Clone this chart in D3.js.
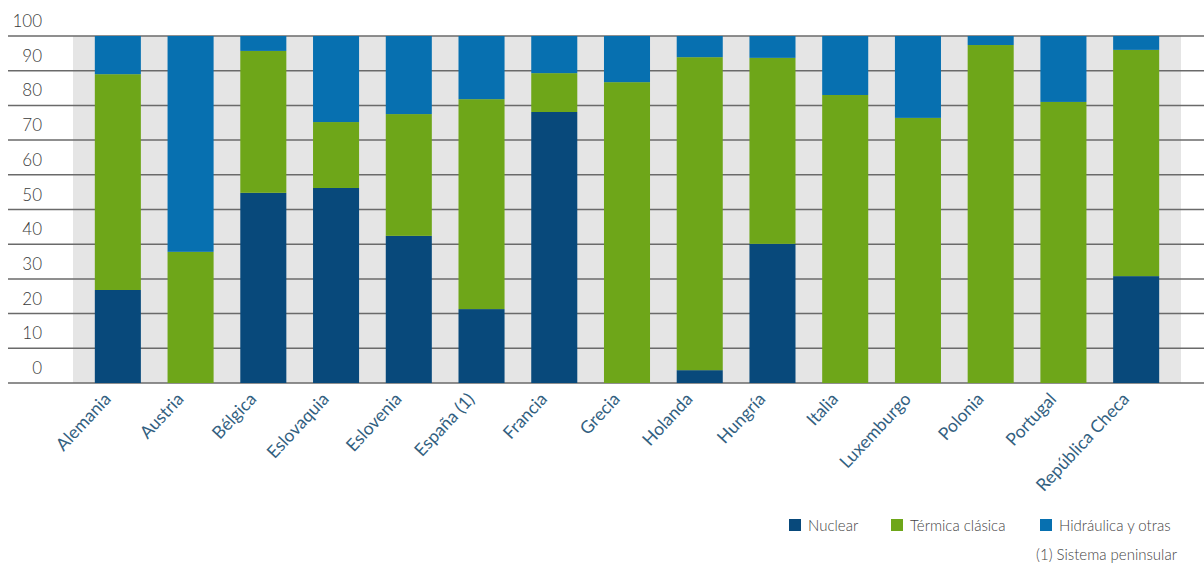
<!DOCTYPE html>
<html>
  <head>
    <meta charset="utf-8" />
    <script src="https://cdn.jsdelivr.net/npm/d3@7"></script>
    <style>
      body {
        margin: 0;
        background: #ffffff;
      }
      svg text {
        font-family: Lato, "Open Sans", sans-serif;
      }
    </style>
  </head>
  <body>
    <svg id="chart" width="1204" height="566"></svg>

    <script>
      // data (% of production)
      const paises = ["Alemania", "Austria", "Bélgica", "Eslovaquia", "Eslovenia", "España (1)", "Francia",
        "Grecia", "Holanda", "Hungría", "Italia", "Luxemburgo", "Polonia", "Portugal", "República Checa"];
      const nuclear    = [26.8, 0, 54.8, 56.2, 42.4, 21.3, 78.1, 0, 3.7, 40.1, 0, 0, 0, 0, 30.8];
      const termica    = [62.2, 37.8, 40.9, 19.0, 35.1, 60.5, 11.2, 86.7, 90.2, 53.6, 83.0, 76.4, 97.4, 81.0, 65.2];
      const hidraulica = [11.0, 62.2, 4.3, 24.8, 22.5, 18.2, 10.7, 13.3, 6.1, 6.3, 17.0, 23.6, 2.6, 19.0, 4.0];
      const yTicks = [0, 10, 20, 30, 40, 50, 60, 70, 80, 90, 100];
      const series = ["Nuclear", "Térmica clásica", "Hidráulica y otras"];
      const colores = ["#08497b", "#6ea619", "#0770b0"];
      const nota = "(1) Sistema peninsular";

      const svg = d3.select("#chart");
      const plot = { left: 73, right: 1181, top: 36, bottom: 383 };

      const x = d3.scaleBand()
        .domain(paises)
        .range([plot.left, plot.right])
        .paddingInner(0.367)
        .paddingOuter(0.3);
      const y = d3.scaleLinear().domain([0, 100]).range([plot.bottom, plot.top]);

      const tabla = paises.map((p, i) => ({
        pais: p,
        "Nuclear": nuclear[i],
        "Térmica clásica": termica[i],
        "Hidráulica y otras": hidraulica[i],
      }));
      const apilado = d3.stack().keys(series)(tabla);

      // grey plot background
      svg.append("rect")
        .attr("x", plot.left)
        .attr("y", plot.top)
        .attr("width", plot.right - plot.left)
        .attr("height", plot.bottom - plot.top)
        .attr("fill", "#e5e5e5");

      // gridlines run the full width
      svg.append("g")
        .selectAll("line")
        .data(yTicks)
        .join("line")
        .attr("x1", 8)
        .attr("x2", 1204)
        .attr("y1", (d) => y(d))
        .attr("y2", (d) => y(d))
        .attr("stroke", "#6a6a6a")
        .attr("stroke-width", 1.5);

      // y labels sit just above their line
      svg.append("g")
        .selectAll("text")
        .data(yTicks)
        .join("text")
        .attr("x", 42)
        .attr("y", (d) => y(d) - 9)
        .attr("text-anchor", "end")
        .attr("font-size", 17)
        .attr("font-weight", 300)
        .attr("fill", "#3a3a3a")
        .text((d) => d);

      // stacked bars
      svg.append("g")
        .selectAll("g")
        .data(apilado)
        .join("g")
        .attr("fill", (d, i) => colores[i])
        .selectAll("rect")
        .data((d) => d)
        .join("rect")
        .attr("x", (d) => x(d.data.pais))
        .attr("width", x.bandwidth())
        .attr("y", (d) => y(d[1]))
        .attr("height", (d) => y(d[0]) - y(d[1]));

      // rotated country labels
      svg.append("g")
        .selectAll("text")
        .data(paises)
        .join("text")
        .attr("transform", (d) => {
          const cx = x(d) + x.bandwidth() / 2 - 6;
          return "translate(" + cx + ",400) rotate(-47)";
        })
        .attr("text-anchor", "end")
        .attr("font-size", 17.5)
        .attr("fill", "#32607f")
        .text((d) => d);

      // legend
      const legendX = [789, 891, 1040];
      const leyenda = svg.append("g");
      series.forEach((s, i) => {
        leyenda.append("rect")
          .attr("x", legendX[i])
          .attr("y", 519)
          .attr("width", 12)
          .attr("height", 12)
          .attr("fill", colores[i]);
        leyenda.append("text")
          .attr("x", legendX[i] + 19)
          .attr("y", 531)
          .attr("font-size", 15)
          .attr("font-weight", 300)
          .attr("fill", "#444")
          .text(s);
      });

      svg.append("text")
        .attr("x", 1177)
        .attr("y", 560)
        .attr("text-anchor", "end")
        .attr("font-size", 15)
        .attr("font-weight", 300)
        .attr("fill", "#444")
        .text(nota);
    </script>
  </body>
</html>
